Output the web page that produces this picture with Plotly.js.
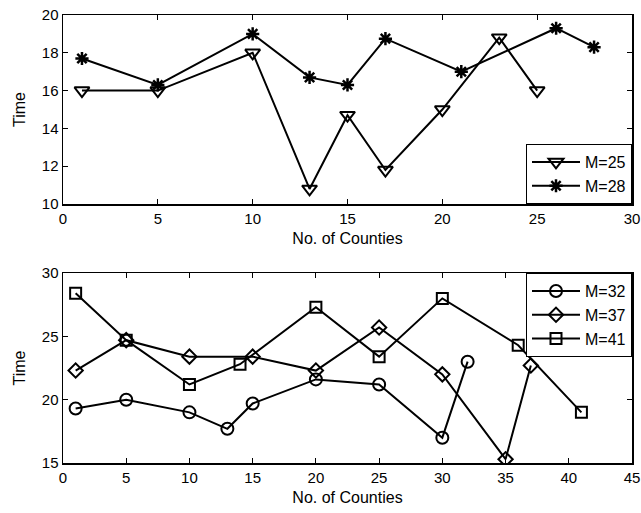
<!DOCTYPE html>
<html><head><meta charset="utf-8">
<script src="https://cdn.plot.ly/plotly-3.0.1.min.js"></script>
<style>html,body{margin:0;padding:0;background:#fff;}#chart{width:641px;height:513px;}</style>
</head><body><div id="chart"></div>
<script>
// Top panel
const m25_x = [1, 5, 10, 13, 15, 17, 20, 23, 25];
const m25_y = [16, 16, 18, 10.8, 14.7, 11.8, 15, 18.8, 16];
const m28_x = [1, 5, 10, 13, 15, 17, 21, 26, 28];
const m28_y = [17.7, 16.3, 19, 16.7, 16.3, 18.75, 17, 19.3, 18.3];
// Bottom panel
const m32_x = [1, 5, 10, 13, 15, 20, 25, 30, 32];
const m32_y = [19.3, 20, 19, 17.7, 19.7, 21.6, 21.2, 17, 23];
const m37_x = [1, 5, 10, 15, 20, 25, 30, 35, 37];
const m37_y = [22.3, 24.7, 23.4, 23.4, 22.3, 25.7, 22, 15.3, 22.7];
const m41_x = [1, 5, 10, 14, 20, 25, 30, 36, 41];
const m41_y = [28.4, 24.7, 21.2, 22.8, 27.3, 23.4, 28, 24.3, 19];
const seriesNames = ['M=25', 'M=28', 'M=32', 'M=37', 'M=41'];
const xTitle = 'No. of Counties';
const yTitle = 'Time';

function tr(x, y, name, sym, size, lw, xa, ya, lg) {
  return {x: x, y: y, name: name, type: 'scatter', mode: 'lines+markers',
    xaxis: xa, yaxis: ya, legend: lg,
    line: {color: '#000', width: 2},
    marker: {symbol: sym, size: size, color: '#000', line: {color: '#000', width: lw}}};
}
const data = [
  tr(m25_x, m25_y, seriesNames[0], 'triangle-down-open', 13, 2, 'x', 'y', 'legend'),
  tr(m28_x, m28_y, seriesNames[1], 'asterisk-open', 11, 2.5, 'x', 'y', 'legend'),
  tr(m32_x, m32_y, seriesNames[2], 'circle-open', 12, 2, 'x2', 'y2', 'legend2'),
  tr(m37_x, m37_y, seriesNames[3], 'diamond-open', 11, 2, 'x2', 'y2', 'legend2'),
  tr(m41_x, m41_y, seriesNames[4], 'square-open', 11, 2, 'x2', 'y2', 'legend2')
];
const FAM = 'Liberation Sans, Arial';
const ax = {showline: true, linecolor: '#000', linewidth: 1.5, mirror: 'ticks',
  ticks: 'inside', ticklen: 5, tickcolor: '#000', tickwidth: 1, showgrid: false, zeroline: false,
  tickfont: {family: FAM, size: 15, color: '#000'}};
function axis(extra) { return Object.assign({}, ax, extra); }
const tf = {family: FAM, size: 16, color: '#000'};
const lf = {family: FAM, size: 16, color: '#000'};
const layout = {
  width: 641, height: 513,
  margin: {l: 63, r: 9, t: 15, b: 50},
  paper_bgcolor: '#fff', plot_bgcolor: '#fff',
  font: tf,
  xaxis: axis({domain: [0, 1], range: [0, 30], tickvals: [0,5,10,15,20,25,30], anchor: 'y',
    title: {text: xTitle, font: tf, standoff: 7}}),
  yaxis: axis({domain: [0.578, 1], range: [10, 20], tickvals: [10,12,14,16,18,20], anchor: 'x',
    title: {text: yTitle, font: tf, standoff: 12}}),
  xaxis2: axis({domain: [0, 1], range: [0, 45], tickvals: [0,5,10,15,20,25,30,35,40,45], anchor: 'y2',
    title: {text: xTitle, font: tf, standoff: 7}}),
  yaxis2: axis({domain: [0, 0.424], range: [15, 30], tickvals: [15,20,25,30], anchor: 'x2',
    title: {text: yTitle, font: tf, standoff: 12}}),
  showlegend: true,
  legend: {x: 1, xanchor: 'right', y: 0.578, yanchor: 'bottom', bgcolor: '#fff',
    bordercolor: '#000', borderwidth: 1, font: lf, tracegroupgap: 0, itemwidth: 48},
  legend2: {x: 1, xanchor: 'right', y: 0.424, yanchor: 'top', bgcolor: '#fff',
    bordercolor: '#000', borderwidth: 1, font: lf, tracegroupgap: 0, itemwidth: 48}
};
Plotly.newPlot('chart', data, layout, {displayModeBar: false, staticPlot: true});
</script></body></html>
